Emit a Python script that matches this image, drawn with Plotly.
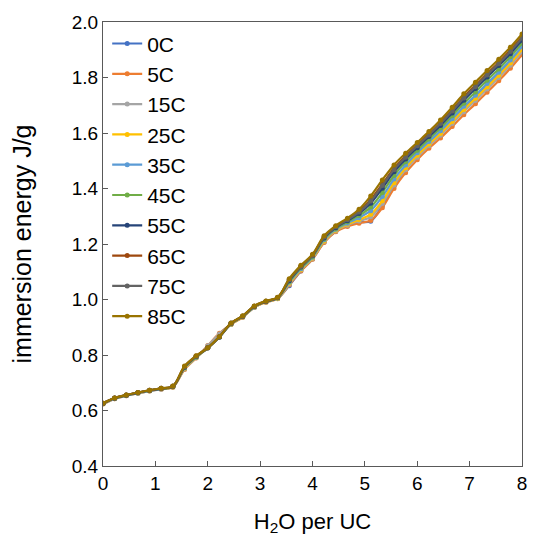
import plotly.graph_objects as go

x_vals = [0.000, 0.222, 0.444, 0.667, 0.889, 1.111, 1.333, 1.556, 1.778, 2.000,
          2.222, 2.444, 2.667, 2.889, 3.111, 3.333, 3.556, 3.778, 4.000, 4.222,
          4.444, 4.667, 4.889, 5.111, 5.333, 5.556, 5.778, 6.000, 6.222, 6.444,
          6.667, 6.889, 7.111, 7.333, 7.556, 7.778, 8.000]

series_names = ["0C", "5C", "15C", "25C", "35C", "45C", "55C", "65C", "75C", "85C"]
series_colors = ["#4472C4", "#ED7D31", "#A5A5A5", "#FFC000", "#5B9BD5",
                 "#70AD47", "#264478", "#9E480E", "#636363", "#997300"]

y_0C = [0.625, 0.644, 0.655, 0.664, 0.672, 0.679, 0.686, 0.752, 0.792, 0.825,
        0.864, 0.911, 0.937, 0.972, 0.991, 1.004, 1.050, 1.103, 1.146, 1.207,
        1.246, 1.266, 1.278, 1.282, 1.338, 1.408, 1.470, 1.520, 1.562, 1.601,
        1.644, 1.689, 1.728, 1.770, 1.811, 1.856, 1.905]
y_5C = [0.623, 0.642, 0.653, 0.662, 0.670, 0.677, 0.684, 0.748, 0.789, 0.834,
        0.878, 0.910, 0.936, 0.971, 0.990, 1.003, 1.053, 1.103, 1.145, 1.205,
        1.244, 1.263, 1.275, 1.285, 1.331, 1.400, 1.457, 1.504, 1.545, 1.582,
        1.623, 1.666, 1.705, 1.747, 1.788, 1.833, 1.882]
y_15C = [0.624, 0.642, 0.653, 0.662, 0.670, 0.677, 0.685, 0.750, 0.790, 0.833,
         0.876, 0.911, 0.937, 0.972, 0.991, 1.004, 1.056, 1.106, 1.148, 1.209,
         1.247, 1.268, 1.283, 1.298, 1.346, 1.413, 1.468, 1.513, 1.554, 1.592,
         1.634, 1.677, 1.717, 1.759, 1.800, 1.844, 1.893]
y_25C = [0.624, 0.643, 0.654, 0.663, 0.671, 0.678, 0.685, 0.751, 0.791, 0.826,
         0.866, 0.911, 0.937, 0.973, 0.991, 1.004, 1.059, 1.108, 1.150, 1.211,
         1.250, 1.271, 1.288, 1.307, 1.356, 1.421, 1.475, 1.520, 1.560, 1.598,
         1.641, 1.685, 1.725, 1.767, 1.808, 1.852, 1.901]
y_35C = [0.624, 0.643, 0.654, 0.663, 0.671, 0.678, 0.686, 0.753, 0.792, 0.826,
         0.865, 0.912, 0.938, 0.973, 0.992, 1.005, 1.062, 1.111, 1.152, 1.215,
         1.253, 1.275, 1.295, 1.320, 1.371, 1.434, 1.485, 1.529, 1.569, 1.608,
         1.651, 1.696, 1.736, 1.778, 1.819, 1.863, 1.912]
y_45C = [0.625, 0.644, 0.655, 0.664, 0.672, 0.679, 0.686, 0.755, 0.793, 0.826,
         0.865, 0.913, 0.939, 0.974, 0.993, 1.006, 1.065, 1.114, 1.155, 1.219,
         1.256, 1.280, 1.303, 1.333, 1.386, 1.447, 1.496, 1.538, 1.578, 1.618,
         1.662, 1.707, 1.748, 1.790, 1.831, 1.875, 1.923]
y_55C = [0.625, 0.644, 0.655, 0.664, 0.672, 0.679, 0.687, 0.756, 0.795, 0.826,
         0.865, 0.914, 0.940, 0.975, 0.993, 1.006, 1.068, 1.117, 1.158, 1.222,
         1.259, 1.284, 1.310, 1.347, 1.401, 1.460, 1.506, 1.547, 1.587, 1.627,
         1.672, 1.718, 1.760, 1.802, 1.843, 1.886, 1.934]
y_65C = [0.626, 0.645, 0.656, 0.665, 0.673, 0.680, 0.687, 0.758, 0.796, 0.826,
         0.866, 0.914, 0.940, 0.976, 0.994, 1.007, 1.072, 1.120, 1.160, 1.226,
         1.263, 1.289, 1.318, 1.360, 1.416, 1.472, 1.517, 1.557, 1.596, 1.637,
         1.683, 1.730, 1.771, 1.813, 1.854, 1.898, 1.946]
y_75C = [0.626, 0.645, 0.656, 0.665, 0.673, 0.680, 0.687, 0.758, 0.795, 0.826,
         0.866, 0.914, 0.940, 0.976, 0.994, 1.007, 1.071, 1.119, 1.159, 1.225,
         1.262, 1.287, 1.315, 1.355, 1.411, 1.468, 1.513, 1.554, 1.593, 1.634,
         1.679, 1.726, 1.767, 1.809, 1.850, 1.894, 1.942]
y_85C = [0.626, 0.645, 0.656, 0.665, 0.673, 0.680, 0.688, 0.760, 0.797, 0.826,
         0.866, 0.915, 0.941, 0.977, 0.995, 1.008, 1.075, 1.123, 1.163, 1.230,
         1.266, 1.293, 1.325, 1.373, 1.431, 1.485, 1.527, 1.566, 1.605, 1.647,
         1.693, 1.741, 1.783, 1.825, 1.866, 1.909, 1.957]

all_y = [y_0C, y_5C, y_15C, y_25C, y_35C, y_45C, y_55C, y_65C, y_75C, y_85C]

x_ticks = [0, 1, 2, 3, 4, 5, 6, 7, 8]
y_ticks = [0.4, 0.6, 0.8, 1.0, 1.2, 1.4, 1.6, 1.8, 2.0]

FONT = "Liberation Sans, Arial, sans-serif"

fig = go.Figure()
for name, color, ys in zip(series_names, series_colors, all_y):
    fig.add_trace(go.Scatter(
        x=x_vals, y=ys, name=name, mode="lines+markers",
        line=dict(color=color, width=2.2, shape="spline", smoothing=1.0),
        marker=dict(color=color, size=5),
    ))

axis_common = dict(
    showline=True, linecolor="#595959", linewidth=1.3, mirror=True,
    ticks="inside", ticklen=5, tickcolor="#595959", tickwidth=1.3,
    showgrid=False, zeroline=False,
    tickfont=dict(family=FONT, size=19, color="#000000"),
)

fig.update_layout(
    width=537, height=543,
    margin=dict(l=103, r=10, t=22, b=77),
    paper_bgcolor="white", plot_bgcolor="white",
    font=dict(family=FONT, size=19, color="#000000"),
    showlegend=True,
    legend=dict(
        x=0.01, y=0.997, xanchor="left", yanchor="top",
        bgcolor="rgba(0,0,0,0)", font=dict(family=FONT, size=21, color="#000000"),
        itemwidth=30,
    ),
    xaxis=dict(
        range=[0, 8], tickvals=x_ticks, ticktext=[str(v) for v in x_ticks],
        title=dict(text="H<sub>2</sub>O per UC", standoff=20,
                   font=dict(family=FONT, size=22, color="#000000")),
        **axis_common,
    ),
    yaxis=dict(
        range=[0.4, 2.0], tickvals=y_ticks, ticktext=[f"{v:.1f}" for v in y_ticks],
        title=dict(text="immersion energy J/g", standoff=32,
                   font=dict(family=FONT, size=25, color="#000000")),
        **axis_common,
    ),
)

fig.write_html("out.html")
